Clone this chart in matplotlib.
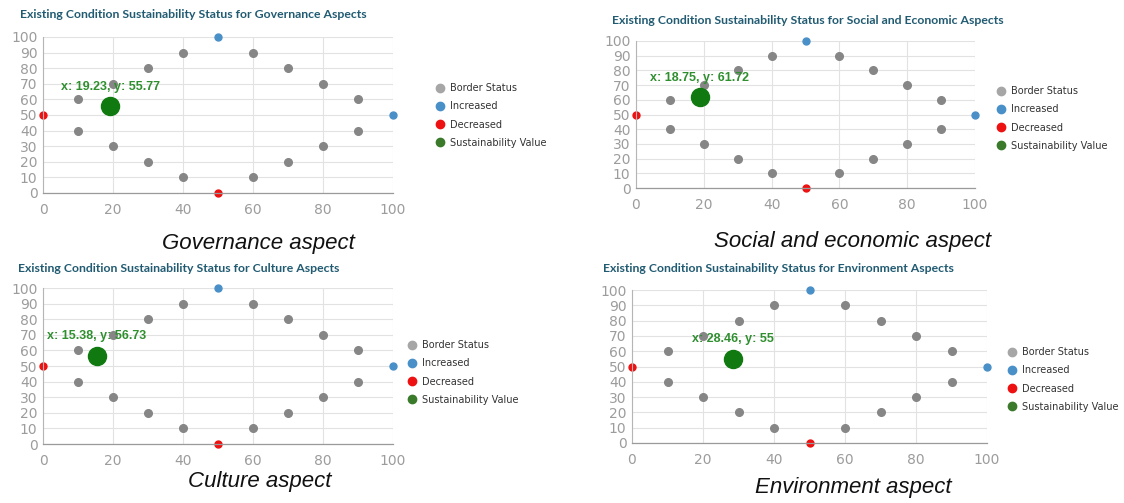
import matplotlib
matplotlib.use("Agg")
import matplotlib.pyplot as plt
from matplotlib.lines import Line2D

# border points (same for every aspect)
border_x = [10, 20, 30, 40, 60, 70, 80, 90, 90, 80, 70, 60, 40, 30, 20, 10]
border_y = [60, 70, 80, 90, 90, 80, 70, 60, 40, 30, 20, 10, 10, 20, 30, 40]
increased_x = [50, 100]
increased_y = [100, 50]
decreased_x = [0, 50]
decreased_y = [50, 0]

aspects = ["Governance", "Social and Economic", "Culture", "Environment"]
captions = ["Governance aspect", "Social and economic aspect",
            "Culture aspect", "Environment aspect"]
sustain_x = [19.23, 18.75, 15.38, 28.46]
sustain_y = [55.77, 61.72, 56.73, 55]
sustain_lbl = ["x: 19.23, y: 55.77", "x: 18.75, y: 61.72",
               "x: 15.38, y: 56.73", "x: 28.46, y: 55"]
legend_labels = ["Border Status", "Increased", "Decreased", "Sustainability Value"]

W, H = 1124, 503

# layout in pixels: axes (x0, x100, y100, y0), title (x, y), legend (x, y), caption (x, y)
axes_px = [(43, 393, 37, 193), (636, 975, 41, 188), (43, 393, 288, 444), (632, 987, 290, 443)]
title_px = [(20, 15), (612, 20), (18, 269), (603, 269)]
legend_px = [(440, 88), (1001, 91), (412, 345), (1012, 352)]
caption_px = [(258, 243), (853, 242), (260, 482), (853, 488)]

GRAY = "#868686"
BLUE = "#4a90c8"
RED = "#ee1111"
GREEN = "#107a10"


def fx(px):
    return px / W


def fy(py):
    return 1 - py / H


fig = plt.figure(figsize=(W / 100, H / 100), dpi=100)

for i in range(4):
    x0, x1, y1, y0 = axes_px[i]
    ax = fig.add_axes([fx(x0), fy(y0), (x1 - x0) / W, (y0 - y1) / H])
    ax.set_xlim(0, 100)
    ax.set_ylim(0, 100)
    ax.set_xticks(range(0, 101, 20))
    ax.set_yticks(range(0, 101, 10))
    ax.grid(True, color="#e2e2e2", linewidth=0.8)
    ax.set_axisbelow(True)
    for s in ["top", "right"]:
        ax.spines[s].set_visible(False)
    ax.spines["left"].set_color("#b5b5b5")
    ax.spines["bottom"].set_color("#9a9a9a")
    ax.spines["left"].set_linewidth(0.8)
    ax.spines["bottom"].set_linewidth(0.9)
    ax.tick_params(length=0, labelsize=10, labelcolor="#9c9c9c")
    ax.tick_params(axis="y", pad=4)
    ax.tick_params(axis="x", pad=7)

    ax.plot(border_x, border_y, "o", color=GRAY, ms=5.5, ls="none", clip_on=False)
    ax.plot(increased_x, increased_y, "o", color=BLUE, ms=5, ls="none", clip_on=False)
    ax.plot(decreased_x, decreased_y, "o", color=RED, ms=5, ls="none", clip_on=False)
    ax.plot([sustain_x[i]], [sustain_y[i]], "o", color=GREEN, ms=13, ls="none", clip_on=False)
    ax.annotate(sustain_lbl[i], (sustain_x[i], sustain_y[i]), xytext=(0, 14),
                textcoords="offset points", ha="center", va="center",
                fontsize=9, fontweight="bold", color="#2f8f2f",
                family="Liberation Sans")

    # title and caption
    tx, ty = title_px[i]
    fig.text(fx(tx), fy(ty), "Existing Condition Sustainability Status for %s Aspects" % aspects[i],
             ha="left", va="center", fontsize=8.8, fontweight="bold",
             color="#215b72", family="Lato")
    cx, cy = caption_px[i]
    fig.text(fx(cx), fy(cy), captions[i], ha="center", va="center",
             fontsize=16, style="italic", color="#111111", family="Liberation Sans")

    handles = [Line2D([], [], marker="o", ls="none", color=c, ms=6)
               for c in ["#a6a6a6", BLUE, RED, "#3a7a2a"]]
    lx, ly = legend_px[i]
    fig.legend(handles, legend_labels, loc="upper left",
               bbox_to_anchor=(fx(lx - 5), fy(ly - 5)), frameon=False,
               fontsize=7, labelcolor="#333333", handlelength=1.0,
               handletextpad=0.5, labelspacing=0.85, borderpad=0,
               borderaxespad=0)

fig.savefig("out.png", dpi=100)
